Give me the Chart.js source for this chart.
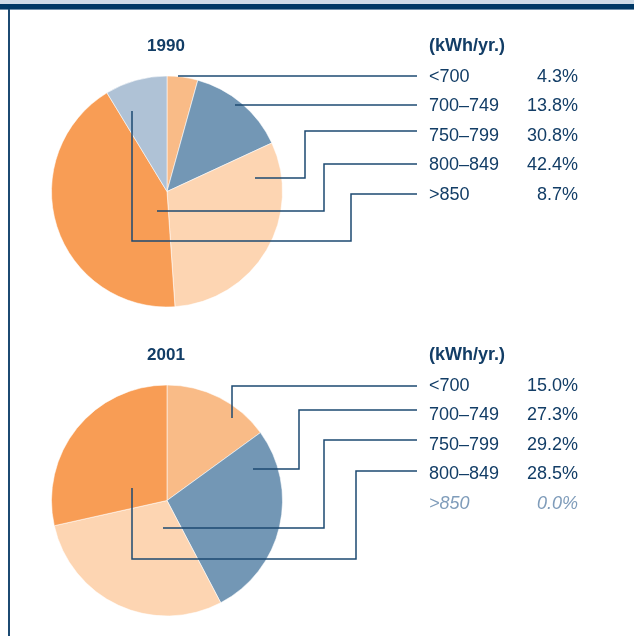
<!DOCTYPE html>
<html>
<head>
<meta charset="utf-8">
<script src="https://cdn.jsdelivr.net/npm/chart.js@4/dist/chart.umd.min.js"></script>
<style>
  html, body { margin: 0; padding: 0; background: #fff; }
  #page { position: relative; width: 634px; height: 636px; overflow: hidden; }
  .band-light { position: absolute; left: 0; top: 0; width: 634px; height: 4px; background: #cfdbe7; }
  .band-dark { position: absolute; left: 0; top: 4px; width: 634px; height: 5px; background: #003865; }
  .band-edge { position: absolute; left: 0; top: 9px; width: 634px; height: 1px; background: #6f8ea9; }
  .side-rule { position: absolute; left: 8px; top: 9px; width: 2px; height: 627px; background: #1c4a72; }
  canvas { position: absolute; left: 0; }
</style>
</head>
<body>
<div id="page">
  <div class="band-light"></div>
  <div class="band-dark"></div>
  <div class="band-edge"></div>
  <div class="side-rule"></div>
  <canvas id="pie1990" width="634" height="318" style="top:0"></canvas>
  <canvas id="pie2001" width="634" height="318" style="top:318px"></canvas>
</div>
<script>
/* ====== DATA ====== */
const categories = ['<700', '700–749', '750–799', '800–849', '>850'];
const share1990 = [4.3, 13.8, 30.8, 42.4, 8.7];
const share2001 = [15.0, 27.3, 29.2, 28.5, 0.0];
const unitLabel = '(kWh/yr.)';

const sliceColors = ['#f9bb87', '#7397b5', '#fdd5b2', '#f89d55', '#afc2d6'];
const inkColor = '#123d66';
const mutedColor = '#7f9cba';
const lineColor = '#1d4a72';

// leader paths, offsets from the pie centre (px); null = no leader
const leaders1990 = [
  [[11, -115.5], [250, -115.5]],
  [[68, -86.5], [250, -86.5]],
  [[88, -13.5], [138, -13.5], [138, -60.5], [250, -60.5]],
  [[-10, 19.5], [157, 19.5], [157, -27.5], [250, -27.5]],
  [[-35, -80.5], [-35, 49.5], [184, 49.5], [184, 2.5], [250, 2.5]],
];
const leaders2001 = [
  [[65, -82.5], [65, -114.5], [250, -114.5]],
  [[86, -31.5], [132, -31.5], [132, -90.5], [250, -90.5]],
  [[-4, 27.5], [157, 27.5], [157, -60.5], [250, -60.5]],
  [[-35, -12.5], [-35, 58.5], [189, 58.5], [189, -29.5], [250, -29.5]],
  null,
];

/* ====== LABEL + LEADER PLUGIN ====== */
const labelX = 429;
const pctRight = 578;
const rowGap = 29.5;

const calloutPlugin = {
  id: 'callouts',
  afterDatasetsDraw(chart, args, opts) {
    const ctx = chart.ctx;
    const arc = chart.getDatasetMeta(0).data[0];
    const cx = arc.x, cy = arc.y, r = arc.outerRadius;
    const values = chart.data.datasets[0].data;

    ctx.save();
    // leader lines
    ctx.strokeStyle = lineColor;
    ctx.lineWidth = 1.5;
    ctx.lineJoin = 'miter';
    opts.leaders.forEach((path) => {
      if (!path) return;
      ctx.beginPath();
      path.forEach(([dx, dy], i) => {
        if (i === 0) ctx.moveTo(cx + dx, cy + dy);
        else ctx.lineTo(cx + dx, cy + dy);
      });
      ctx.stroke();
    });

    // headers
    const top = cy - r;
    ctx.fillStyle = inkColor;
    ctx.textBaseline = 'middle';
    ctx.font = 'bold 17px "Liberation Sans", Arial, sans-serif';
    ctx.textAlign = 'center';
    ctx.fillText(opts.year, cx - 1, top - 30);
    ctx.textAlign = 'left';
    ctx.font = 'bold 18px "Liberation Sans", Arial, sans-serif';
    ctx.fillText(unitLabel, labelX, top - 30);

    // category rows
    chart.data.labels.forEach((lab, i) => {
      const y = top + 1 + i * rowGap;
      const empty = values[i] === 0;
      const style = empty ? 'italic ' : '';
      ctx.fillStyle = empty ? mutedColor : inkColor;
      ctx.font = style + '18px "Liberation Sans", Arial, sans-serif';
      ctx.textAlign = 'left';
      ctx.fillText(lab, labelX, y);
      ctx.textAlign = 'right';
      ctx.fillText(values[i].toFixed(1) + '%', pctRight, y);
    });
    ctx.restore();
  },
};

/* ====== PIES ====== */
function makePie(id, values, year, leaders, padding) {
  return new Chart(document.getElementById(id), {
    type: 'pie',
    data: {
      labels: categories,
      datasets: [{
        data: values,
        backgroundColor: sliceColors,
        borderColor: 'rgba(255,255,255,0.55)',
        borderWidth: 1,
      }],
    },
    options: {
      responsive: false,
      animation: false,
      layout: { padding },
      plugins: {
        legend: { display: false },
        tooltip: { enabled: false },
        callouts: { year, leaders },
      },
    },
    plugins: [calloutPlugin],
  });
}

makePie('pie1990', share1990, '1990', leaders1990, { left: 51, right: 351, top: 75, bottom: 10 });
makePie('pie2001', share2001, '2001', leaders2001, { left: 51, right: 351, top: 66, bottom: 19 });
</script>
</body>
</html>
